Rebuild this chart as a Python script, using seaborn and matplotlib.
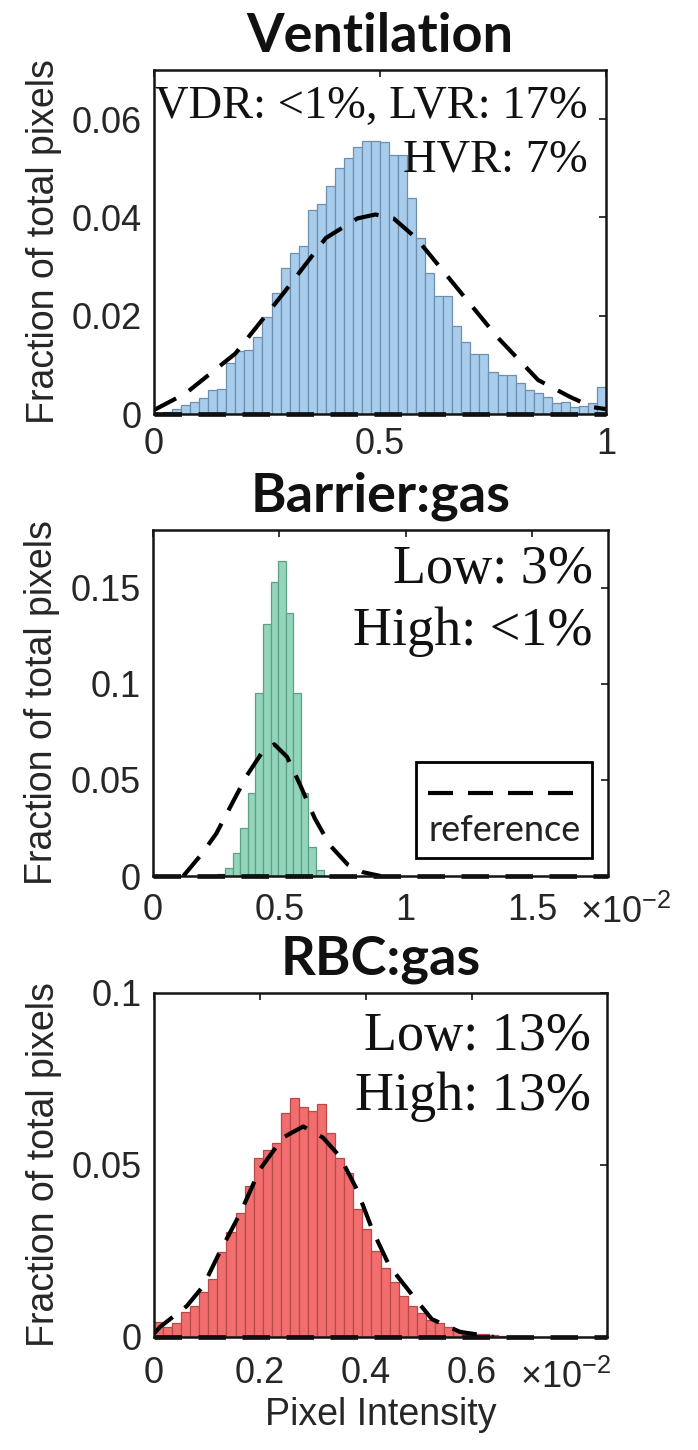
import numpy as np
import matplotlib
matplotlib.use("Agg")
import matplotlib.pyplot as plt
from matplotlib.patches import Rectangle
from matplotlib.lines import Line2D
from matplotlib.ticker import FuncFormatter
import pandas as pd
import seaborn as sns

# ---------------- data ----------------
# Ventilation: 50 bins over [0, 1]
vent_frac = [0.0003, 0.0005, 0.0010, 0.0018, 0.0024, 0.0032, 0.0048, 0.0050, 0.0103, 0.0129,
             0.0131, 0.0156, 0.0197, 0.0247, 0.0298, 0.0328, 0.0341, 0.0416, 0.0427, 0.0463,
             0.0500, 0.0521, 0.0543, 0.0556, 0.0556, 0.0553, 0.0527, 0.0527, 0.0439, 0.0358,
             0.0287, 0.0240, 0.0240, 0.0180, 0.0146, 0.0123, 0.0123, 0.0085, 0.0079, 0.0079,
             0.0063, 0.0048, 0.0042, 0.0035, 0.0023, 0.0025, 0.0015, 0.0017, 0.0022, 0.0055]
vent_ref_x = [0.0, 0.07, 0.18, 0.29, 0.38, 0.45, 0.49, 0.53, 0.58, 0.67, 0.76, 0.85, 0.92, 0.97, 1.0]
vent_ref_y = [0.0008, 0.0042, 0.0123, 0.0250, 0.0358, 0.0398, 0.0406, 0.0398, 0.0358, 0.0257,
              0.0156, 0.0069, 0.0035, 0.0014, 0.0010]

# Barrier:gas, intensities in units of 1e-2, bin width 0.03
barrier_x = [0.27, 0.30, 0.33, 0.36, 0.39, 0.42, 0.45, 0.48, 0.51, 0.54, 0.57, 0.60, 0.63, 0.66]
barrier_frac = [0.001, 0.004, 0.012, 0.025, 0.043, 0.095, 0.131, 0.153, 0.164, 0.137,
                0.095, 0.043, 0.015, 0.003]
barrier_ref_x = [0.12, 0.19, 0.25, 0.31, 0.37, 0.43, 0.48, 0.53, 0.58, 0.64, 0.70, 0.77, 0.83, 0.90]
barrier_ref_y = [0.000, 0.011, 0.022, 0.037, 0.052, 0.064, 0.0685, 0.062, 0.048, 0.030,
                 0.016, 0.006, 0.002, 0.000]

# RBC:gas, intensities in units of 1e-2, 50 bins over [0, 0.856]
rbc_frac = [0.0043, 0.0030, 0.0040, 0.0072, 0.0090, 0.0130, 0.0168, 0.0246, 0.0304, 0.0360,
            0.0438, 0.0520, 0.0545, 0.0565, 0.0650, 0.0695, 0.0670, 0.0656, 0.0676, 0.0594,
            0.0520, 0.0478, 0.0371, 0.0313, 0.0250, 0.0200, 0.0160, 0.0120, 0.0090, 0.0070,
            0.0050, 0.0040, 0.0030, 0.0020, 0.0015, 0.0010, 0.0008, 0.0005, 0.0003, 0.0002,
            0.0002, 0.0001, 0.0001, 0.0001, 0.0, 0.0, 0.0, 0.0, 0.0, 0.0]
rbc_ref_x = [0.0, 0.012, 0.062, 0.093, 0.124, 0.163, 0.200, 0.244, 0.282, 0.319, 0.351,
             0.383, 0.413, 0.445, 0.489, 0.525, 0.578, 0.642]
rbc_ref_y = [0.0010, 0.0030, 0.0090, 0.0148, 0.0246, 0.0360, 0.0487, 0.0580, 0.0612, 0.0580,
             0.0525, 0.0430, 0.0310, 0.0206, 0.0120, 0.0052, 0.0015, 0.0]
RBC_MAX = 0.856

titles = ["Ventilation", "Barrier:gas", "RBC:gas"]
notes = [["VDR: <1%, LVR: 17%", "HVR: 7%"], ["Low: 3%", "High: <1%"], ["Low: 13%", "High: 13%"]]
SCALE = 1e-2

# ---------------- style ----------------
sns.set_theme(style="white")
plt.rcParams["font.family"] = ["Liberation Sans", "DejaVu Sans"]
plt.rcParams["mathtext.fontset"] = "custom"
plt.rcParams["mathtext.rm"] = "Liberation Sans"
TICK_COLOR = "#262626"
SERIF = ["Liberation Serif", "DejaVu Serif"]
TITLE_FONT = ["Lato", "DejaVu Sans"]
TICK_SIZE = 26
LABEL_SIZE = 27

fig = plt.figure(figsize=(6.98, 14.5), dpi=100)
W, H = 698, 1450
def add_axes(l, r, t, b):
    return fig.add_axes([l / W, 1 - b / H, (r - l) / W, (b - t) / H])

ax1 = add_axes(154, 606, 70, 414)
ax2 = add_axes(153, 608, 530, 876)
ax3 = add_axes(154, 607, 993, 1337)

DASH = (6.0, 3.6)
REF_LW = 3.0

def style_axes(ax, xpad):
    for s in ax.spines.values():
        s.set_visible(True)
        s.set_linewidth(1.8)
        s.set_color("#141414")
    ax.tick_params(direction="in", top=True, right=True, length=5, width=1.3,
                   labelsize=TICK_SIZE, colors=TICK_COLOR)
    ax.tick_params(axis="x", pad=xpad)
    ax.tick_params(axis="y", pad=9)
    ax.set_ylabel("Fraction of total pixels", fontsize=LABEL_SIZE, color=TICK_COLOR)
    ax.yaxis.label.set_verticalalignment("center")
    ax.yaxis.set_label_coords(-0.243, 0.5)
    ax.set_xlabel("")

def histogram(ax, centers, frac, width, lo, hi, face, edge):
    df = pd.DataFrame({"intensity": centers, "fraction": frac})
    sns.histplot(data=df, x="intensity", weights="fraction", binwidth=width,
                 binrange=(lo, hi), ax=ax, color=face, alpha=1.0,
                 edgecolor=edge, linewidth=0.9)

def reference_curve(ax, x, y, xmax):
    sns.lineplot(x=x, y=y, ax=ax, color="black", lw=REF_LW, sort=False)
    ax.lines[-1].set_dashes(DASH)
    base = ax.plot([0, xmax], [0, 0], color="black", lw=REF_LW + 0.3, clip_on=False)[0]
    base.set_dashes(DASH)

def notes_text(ax, lines, size, x, ys):
    for txt, y in zip(lines, ys):
        ax.text(x, y, txt, transform=ax.transAxes, ha="right", va="center",
                fontsize=size, family=SERIF, color="#111111")

# ---- Ventilation ----
vw = 1.0 / len(vent_frac)
vent_centers = vw / 2 + vw * np.arange(len(vent_frac))
histogram(ax1, vent_centers, vent_frac, vw, 0, 1, "#a8cdec", "#6f8fae")
reference_curve(ax1, vent_ref_x, vent_ref_y, 1.0)
ax1.set_xlim(0, 1)
ax1.set_ylim(0, 0.07)
ax1.set_xticks([0, 0.5, 1])
ax1.set_xticklabels(["0", "0.5", "1"])
ax1.set_yticks([0, 0.02, 0.04, 0.06])
ax1.set_yticklabels(["0", "0.02", "0.04", "0.06"])
style_axes(ax1, 9)
notes_text(ax1, notes[0], 33.5, 0.96, [0.892, 0.738])

# ---- Barrier:gas ----
bx = np.array(barrier_x) * SCALE
histogram(ax2, bx, barrier_frac, 0.03 * SCALE, bx[0] - 0.015 * SCALE,
          bx[-1] + 0.015 * SCALE, "#93d5bb", "#5f9f88")
reference_curve(ax2, np.array(barrier_ref_x) * SCALE, barrier_ref_y, 1.8 * SCALE)
ax2.set_xlim(0, 1.8 * SCALE)
ax2.set_ylim(0, 0.18)
ax2.set_xticks(np.array([0, 0.5, 1, 1.5]) * SCALE)
ax2.xaxis.set_major_formatter(FuncFormatter(lambda v, p: f"{v / SCALE:g}"))
ax2.set_yticks([0, 0.05, 0.1, 0.15])
ax2.set_yticklabels(["0", "0.05", "0.1", "0.15"])
style_axes(ax2, 12)
notes_text(ax2, notes[1], 39, 0.967, [0.884, 0.705])
ax2.text(0.938, -0.107, r"$\times10^{-2}$", transform=ax2.transAxes, ha="left", va="center",
         fontsize=TICK_SIZE, color=TICK_COLOR)

# legend box for the reference curve
ax2.add_patch(Rectangle((0.579, 0.052), 0.386, 0.277, transform=ax2.transAxes,
                        fill=False, lw=2.0, ec="black", zorder=5))
leg_line = Line2D([0.605, 0.945], [0.24, 0.24], transform=ax2.transAxes, color="black",
                  lw=REF_LW, zorder=5)
leg_line.set_dashes(DASH)
ax2.add_line(leg_line)
ax2.text(0.772, 0.132, "reference", transform=ax2.transAxes, ha="center", va="center",
         fontsize=26, family=TITLE_FONT, color="#222222", zorder=5)

# ---- RBC:gas ----
rw = RBC_MAX / len(rbc_frac)
rbc_centers = (rw / 2 + rw * np.arange(len(rbc_frac))) * SCALE
histogram(ax3, rbc_centers, rbc_frac, rw * SCALE, 0, RBC_MAX * SCALE, "#f26d6d", "#b84a4a")
reference_curve(ax3, np.array(rbc_ref_x) * SCALE, rbc_ref_y, RBC_MAX * SCALE)
ax3.set_xlim(0, RBC_MAX * SCALE)
ax3.set_ylim(0, 0.1)
ax3.set_xticks(np.array([0, 0.2, 0.4, 0.6]) * SCALE)
ax3.xaxis.set_major_formatter(FuncFormatter(lambda v, p: f"{v / SCALE:g}"))
ax3.set_yticks([0, 0.05, 0.1])
ax3.set_yticklabels(["0", "0.05", "0.1"])
style_axes(ax3, 14)
notes_text(ax3, notes[2], 39, 0.965, [0.872, 0.698])
ax3.text(0.808, -0.12, r"$\times10^{-2}$", transform=ax3.transAxes, ha="left", va="center",
         fontsize=TICK_SIZE, color=TICK_COLOR)
ax3.set_xlabel("Pixel Intensity", fontsize=LABEL_SIZE, color=TICK_COLOR, labelpad=4)

for ax, t in zip([ax1, ax2, ax3], titles):
    ax.set_title(t, fontsize=39, fontweight="bold", family=TITLE_FONT, color="#111111", pad=13)

fig.savefig("out.png", dpi=100, facecolor="white")
